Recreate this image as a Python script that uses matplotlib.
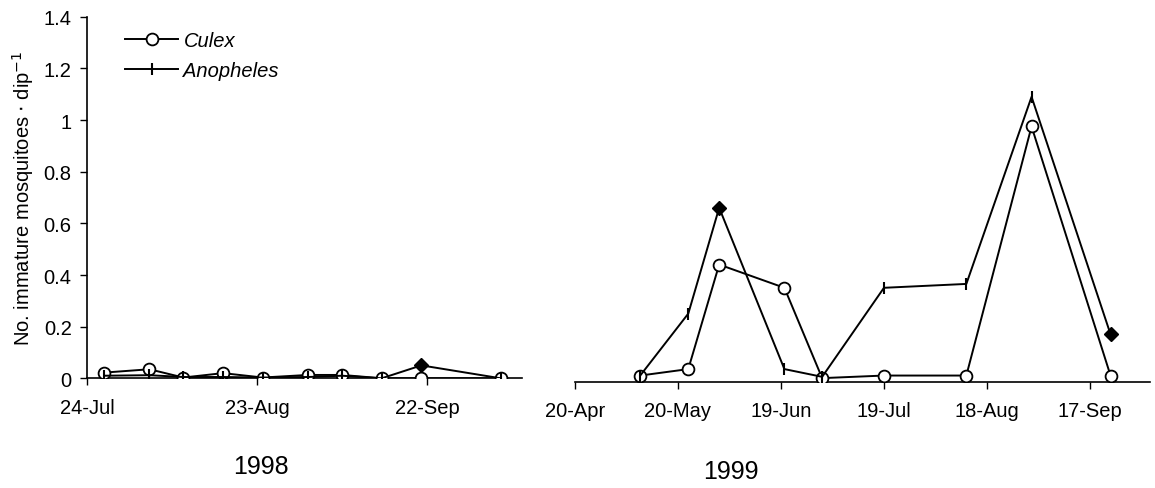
import numpy as np
import matplotlib
matplotlib.use("Agg")
import matplotlib.pyplot as plt

plt.rcParams["font.family"] = ["Liberation Sans", "DejaVu Sans"]

# ---------------------------------------------------------------
# data
# ---------------------------------------------------------------
dates_98 = ["1998-07-27", "1998-08-04", "1998-08-10", "1998-08-17", "1998-08-24",
            "1998-09-01", "1998-09-07", "1998-09-14", "1998-09-21", "1998-10-05"]
culex_98 = [0.022, 0.035, 0.003, 0.020, 0.003, 0.013, 0.013, 0.0, 0.0, 0.0]
anoph_98 = [0.010, 0.012, 0.005, 0.005, 0.003, 0.005, 0.010, 0.0, 0.050, 0.0]
diamond_98 = [8]          # anopheles points drawn as filled diamonds

dates_99 = ["1999-05-09", "1999-05-23", "1999-06-01", "1999-06-20", "1999-07-01",
            "1999-07-19", "1999-08-12", "1999-08-31", "1999-09-23"]
culex_99 = [0.010, 0.035, 0.44, 0.35, 0.0, 0.010, 0.010, 0.975, 0.010]
anoph_99 = [0.010, 0.25, 0.66, 0.035, 0.005, 0.35, 0.365, 1.09, 0.17]
diamond_99 = [2, 8]

ticks_98 = ["1998-07-24", "1998-08-23", "1998-09-22"]
ticklabels_98 = ["24-Jul", "23-Aug", "22-Sep"]
ticks_99 = ["1999-04-20", "1999-05-20", "1999-06-19", "1999-07-19", "1999-08-18", "1999-09-17"]
ticklabels_99 = ["20-Apr", "20-May", "19-Jun", "19-Jul", "18-Aug", "17-Sep"]

yticks = [0, 0.2, 0.4, 0.6, 0.8, 1.0, 1.2, 1.4]
yticklabels = ["0", "0.2", "0.4", "0.6", "0.8", "1", "1.2", "1.4"]

FS = 14.5
LW = 1.4


def d64(lst):
    return np.array(lst, dtype="datetime64[h]")


def draw(ax, dates, culex, anoph, diamonds):
    x = d64(dates)
    ax.plot(x, culex, color="black", lw=LW, marker="o", ms=8.5,
            mfc="white", mec="black", mew=1.3, zorder=3, label="Culex")
    plain = [i for i in range(len(anoph)) if i not in diamonds]
    ax.plot(x, anoph, color="black", lw=LW, marker="|", ms=9, mew=1.5,
            markevery=plain, zorder=4, label="Anopheles")
    ax.plot(x, anoph, ls="none", marker="D", ms=7.5, color="black",
            markevery=diamonds, zorder=5)


W, H = 1155, 489
fig = plt.figure(figsize=(W / 100, H / 100), dpi=100)

# left panel, 1998
ax1 = fig.add_axes([87 / W, (H - 379.3) / H, (522 - 87) / W, (379.3 - 17.8) / H])
draw(ax1, dates_98, culex_98, anoph_98, diamond_98)
ax1.set_xlim(np.datetime64("1998-07-24T00", "h"), np.datetime64("1998-10-08T18", "h"))
ax1.set_ylim(0, 1.4)
ax1.set_xticks(d64(ticks_98))
ax1.set_xticklabels(ticklabels_98)
ax1.set_yticks(yticks)
ax1.set_yticklabels(yticklabels)
ax1.spines[["top", "right"]].set_visible(False)
ax1.tick_params(direction="out", length=5, width=1, labelsize=FS)
ax1.tick_params(axis="x", pad=9)
ax1.tick_params(axis="y", pad=6)
ax1.set_ylabel("No. immature mosquitoes $\\cdot$ dip$^{-1}$", fontsize=FS)
ax1.yaxis.set_label_coords(-0.118, 0.5)
for s in ax1.spines.values():
    s.set_linewidth(1.2)

# right panel, 1999 (no y axis)
ax2 = fig.add_axes([575 / W, (H - 383) / H, (1150 - 575) / W, (383 - 17.8) / H])
draw(ax2, dates_99, culex_99, anoph_99, diamond_99)
ax2.set_xlim(np.datetime64("1999-04-20T00", "h"), np.datetime64("1999-10-04T12", "h"))
ax2.set_ylim(-0.015, 1.4)
ax2.set_xticks(d64(ticks_99))
ax2.set_xticklabels(ticklabels_99)
ax2.set_yticks([])
ax2.spines[["top", "right", "left"]].set_visible(False)
ax2.spines["bottom"].set_linewidth(1.2)
ax2.tick_params(direction="out", length=5, width=1, labelsize=FS, pad=9)

# legend
leg = ax1.legend(loc="upper left", bbox_to_anchor=(125 / W, 1 - 32 / H),
                 bbox_transform=fig.transFigure, frameon=False, fontsize=FS,
                 handlelength=2.65, handletextpad=0.25, labelspacing=0.55,
                 borderpad=0, borderaxespad=0)
for t in leg.get_texts():
    t.set_fontstyle("italic")

# year captions
fig.text(261 / W, 1 - 467 / H, "1998", ha="center", va="center", fontsize=18)
fig.text(731 / W, 1 - 472 / H, "1999", ha="center", va="center", fontsize=18)

fig.savefig("out.png", dpi=100)
